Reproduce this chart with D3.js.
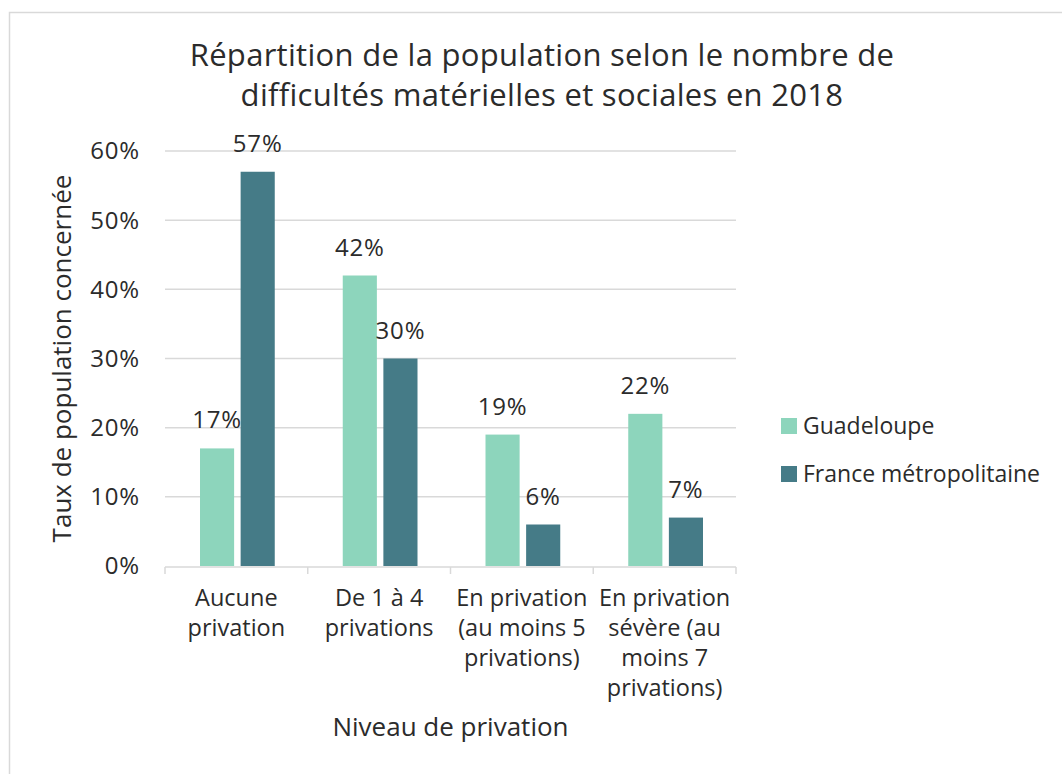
<!DOCTYPE html>
<html>
<head>
<meta charset="utf-8">
<script src="https://cdn.jsdelivr.net/npm/d3@7"></script>
<style>
  body { margin: 0; background: #fff; }
  text { font-family: "Open Sans", sans-serif; fill: #2b2b2b; }
</style>
</head>
<body>
<div id="chart-area"></div>
<script>
var categories = [
	['Aucune', 'privation'],
	['De 1 à 4', 'privations'],
	['En privation', '(au moins 5', 'privations)'],
	['En privation', 'sévère (au', 'moins 7', 'privations)']
];
var seriesNames = ['Guadeloupe', 'France métropolitaine'];
var guadeloupe = [17, 42, 19, 22];
var france = [57, 30, 6, 7];
var yTicks = [0, 10, 20, 30, 40, 50, 60];
var colors = ['#8dd5bc', '#457b87'];

var W = 1062, H = 774;
var margin = { left: 165, top: 151, right: 326, bottom: 208 };
var width = W - margin.left - margin.right;
var height = H - margin.top - margin.bottom;

var svg = d3.select('#chart-area')
	.append('svg')
	.attr('width', W)
	.attr('height', H);

// chart frame
svg.append('rect')
	.attr('x', 9.5).attr('y', 12.5)
	.attr('width', 1080).attr('height', 800)
	.attr('fill', 'none')
	.attr('stroke', '#d9d9d9')
	.attr('stroke-width', 1.5);

var g = svg.append('g')
	.attr('transform', `translate(${margin.left}, ${margin.top})`);

var x0 = d3.scaleBand()
	.domain(d3.range(categories.length))
	.range([0, width]);
var x1 = d3.scaleBand()
	.domain([0, 1])
	.range([35, x0.bandwidth() - 33])
	.paddingInner(0.16);
var y = d3.scaleLinear()
	.domain([0, 60])
	.range([height, 0]);

// gridlines
g.selectAll('.grid')
	.data(yTicks.slice(1))
	.enter().append('line')
	.attr('x1', 0).attr('x2', width)
	.attr('y1', d => y(d)).attr('y2', d => y(d))
	.attr('stroke', '#d9d9d9')
	.attr('stroke-width', 1.5);

// y tick labels
g.selectAll('.ytick')
	.data(yTicks)
	.enter().append('text')
	.attr('x', -25)
	.attr('y', d => y(d))
	.attr('dy', '0.35em')
	.attr('text-anchor', 'end')
	.attr('font-size', '24px')
	.attr('letter-spacing', '0.8px')
	.text(d => d + '%');

// bars
var data = categories.map((c, i) => [guadeloupe[i], france[i]]);
var groups = g.selectAll('.cat')
	.data(data)
	.enter().append('g')
	.attr('transform', (d, i) => `translate(${x0(i)}, 0)`);

groups.selectAll('rect')
	.data(d => d)
	.enter().append('rect')
	.attr('x', (d, j) => x1(j))
	.attr('y', d => y(d))
	.attr('width', x1.bandwidth())
	.attr('height', d => height - y(d))
	.attr('fill', (d, j) => colors[j]);

groups.selectAll('.val')
	.data(d => d)
	.enter().append('text')
	.attr('x', (d, j) => x1(j) + x1.bandwidth() / 2)
	.attr('y', d => y(d) - 20)
	.attr('text-anchor', 'middle')
	.attr('font-size', '24px')
	.attr('letter-spacing', '0.8px')
	.text(d => d + '%');

// x axis line and ticks
g.append('line')
	.attr('x1', 0).attr('x2', width)
	.attr('y1', height + 1).attr('y2', height + 1)
	.attr('stroke', '#d9d9d9')
	.attr('stroke-width', 1.5);
g.selectAll('.xtick')
	.data(d3.range(categories.length + 1))
	.enter().append('line')
	.attr('x1', d => d * x0.bandwidth()).attr('x2', d => d * x0.bandwidth())
	.attr('y1', height + 1).attr('y2', height + 8)
	.attr('stroke', '#d9d9d9')
	.attr('stroke-width', 1.5);

// category labels
g.selectAll('.xlab')
	.data(categories)
	.enter().append('text')
	.attr('text-anchor', 'middle')
	.attr('font-size', '23.5px')
	.attr('transform', (d, i) => `translate(${x0(i) + x0.bandwidth() / 2}, ${height + 40})`)
	.selectAll('tspan')
	.data(d => d)
	.enter().append('tspan')
	.attr('x', 0)
	.attr('y', (d, k) => k * 30)
	.text(d => d);

// axis titles
g.append('text')
	.attr('x', width / 2)
	.attr('y', height + 170)
	.attr('text-anchor', 'middle')
	.attr('font-size', '26px')
	.text('Niveau de privation');

g.append('text')
	.attr('transform', 'rotate(-90)')
	.attr('x', -height / 2)
	.attr('y', -94)
	.attr('text-anchor', 'middle')
	.attr('font-size', '26px')
	.text('Taux de population concernée');

// title
var title = svg.append('text')
	.attr('text-anchor', 'middle')
	.attr('font-size', '31px')
	.attr('letter-spacing', '0.3px');
title.append('tspan').attr('x', 542).attr('y', 66)
	.text('Répartition de la population selon le nombre de');
title.append('tspan').attr('x', 542).attr('y', 106)
	.text('difficultés matérielles et sociales en 2018');

// legend
var legend = svg.append('g')
	.attr('transform', 'translate(781, 426)');
seriesNames.forEach((s, i) => {
	var row = legend.append('g')
		.attr('transform', `translate(0, ${i * 48})`);
	row.append('rect')
		.attr('y', -8)
		.attr('width', 16)
		.attr('height', 16)
		.attr('fill', colors[i]);
	row.append('text')
		.attr('x', 22)
		.attr('dy', '0.35em')
		.attr('font-size', '23px')
		.text(s);
});
</script>
</body>
</html>
